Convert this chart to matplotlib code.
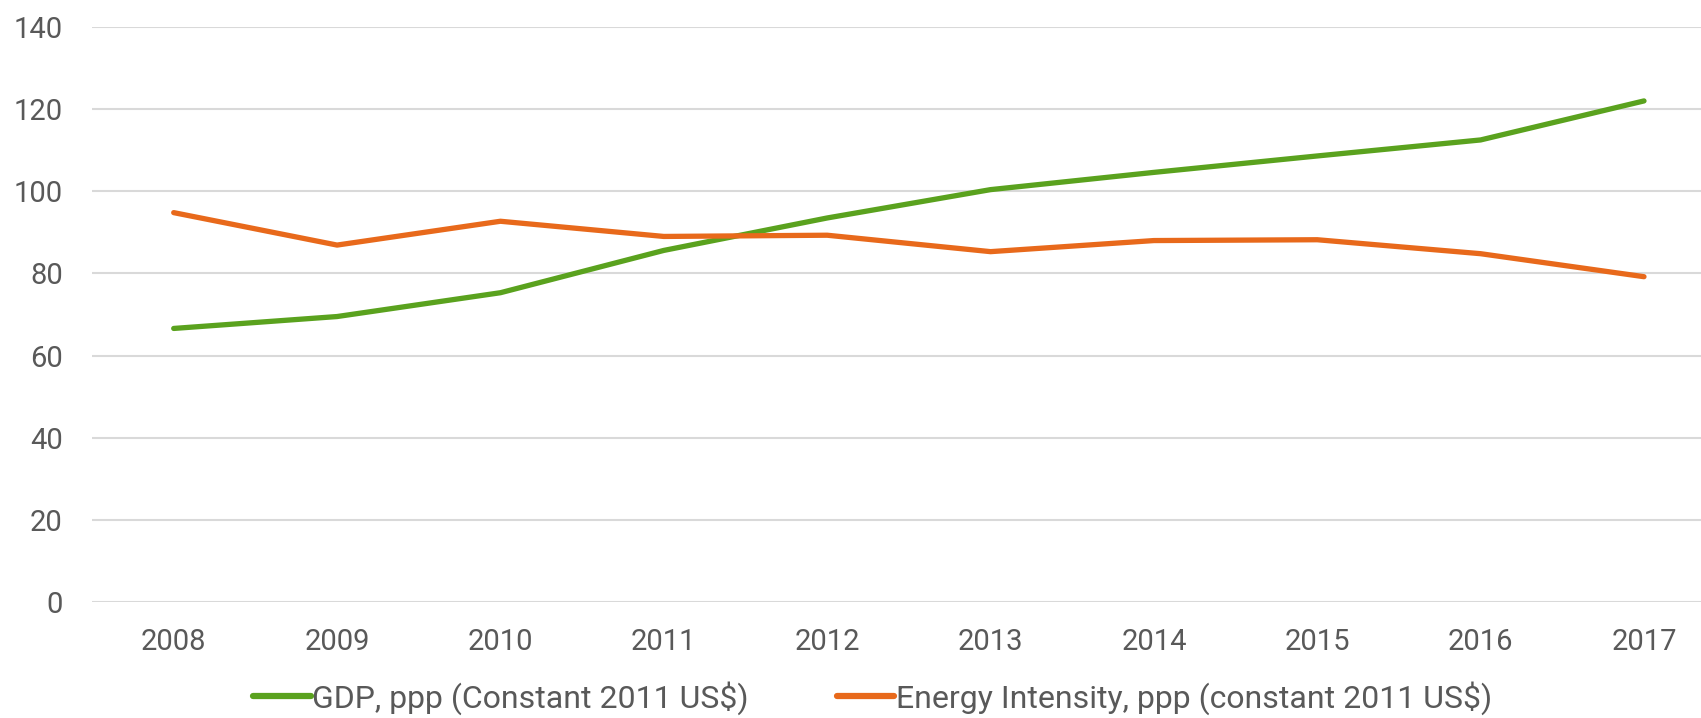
# -*- coding: utf-8 -*-

import numpy as np
import matplotlib
matplotlib.use('Agg')
import matplotlib.pyplot as plt
from matplotlib import font_manager


years = ['2008', '2009', '2010', '2011', '2012', '2013', '2014', '2015', '2016', '2017']
gdp = [66.6, 69.5, 75.3, 85.6, 93.5, 100.4, 104.6, 108.6, 112.5, 122.0]
energy = [94.8, 86.9, 92.7, 89.0, 89.3, 85.3, 88.0, 88.2, 84.8, 79.2]

gdp_label = 'GDP, ppp (Constant 2011 US$)'
energy_label = 'Energy Intensity, ppp (constant 2011 US$)'
yticks = [0, 20, 40, 60, 80, 100, 120, 140]

green = '#5AA21E'
orange = '#E8691B'
text_col = '#595959'


def has_font(name):
    try:
        font_manager.findfont(font_manager.FontProperties(family=name), fallback_to_default=False)
        return True
    except Exception:
        return False


# narrow font if there is one, else Roboto
if has_font('Liberation Sans Narrow'):
    fam, tick_size, leg_size = 'Liberation Sans Narrow', 24, 26
else:
    fam, tick_size, leg_size = 'Roboto', 21, 23

fig = plt.figure(figsize=(17.01, 7.18), dpi=100)
ax = fig.add_axes([0.0541, 0.1616, 0.946, 0.8008])

x = np.arange(len(years))
l1, = ax.plot(x, gdp, color=green, lw=3.8, solid_capstyle='round', solid_joinstyle='round')
l2, = ax.plot(x, energy, color=orange, lw=3.8, solid_capstyle='round', solid_joinstyle='round')

ax.set_xlim(-0.5, 9.35)
ax.set_ylim(0, 140)
ax.set_yticks(yticks)
ax.set_xticks(x)
ax.set_xticklabels(years)
ax.yaxis.grid(True, color='#D9D9D9', lw=1.5)
ax.set_axisbelow(True)
for s in ax.spines.values():
    s.set_visible(False)
ax.tick_params(length=0, labelsize=tick_size, labelcolor=text_col)
ax.tick_params(axis='y', pad=21)
ax.tick_params(axis='x', pad=19)
for lab in ax.get_xticklabels() + ax.get_yticklabels():
    lab.set_fontfamily([fam, 'DejaVu Sans'])

leg = fig.legend([l1, l2], [gdp_label, energy_label], loc='center',
                 bbox_to_anchor=(0.513, 0.028), ncol=2, frameon=False,
                 handlelength=1.8, handletextpad=0.05, columnspacing=2.75,
                 prop={'family': [fam, 'DejaVu Sans'], 'size': leg_size})
for t in leg.get_texts():
    t.set_color(text_col)
for h in leg.get_lines():
    h.set_linewidth(4.5)

fig.savefig('out.png', dpi=100)
